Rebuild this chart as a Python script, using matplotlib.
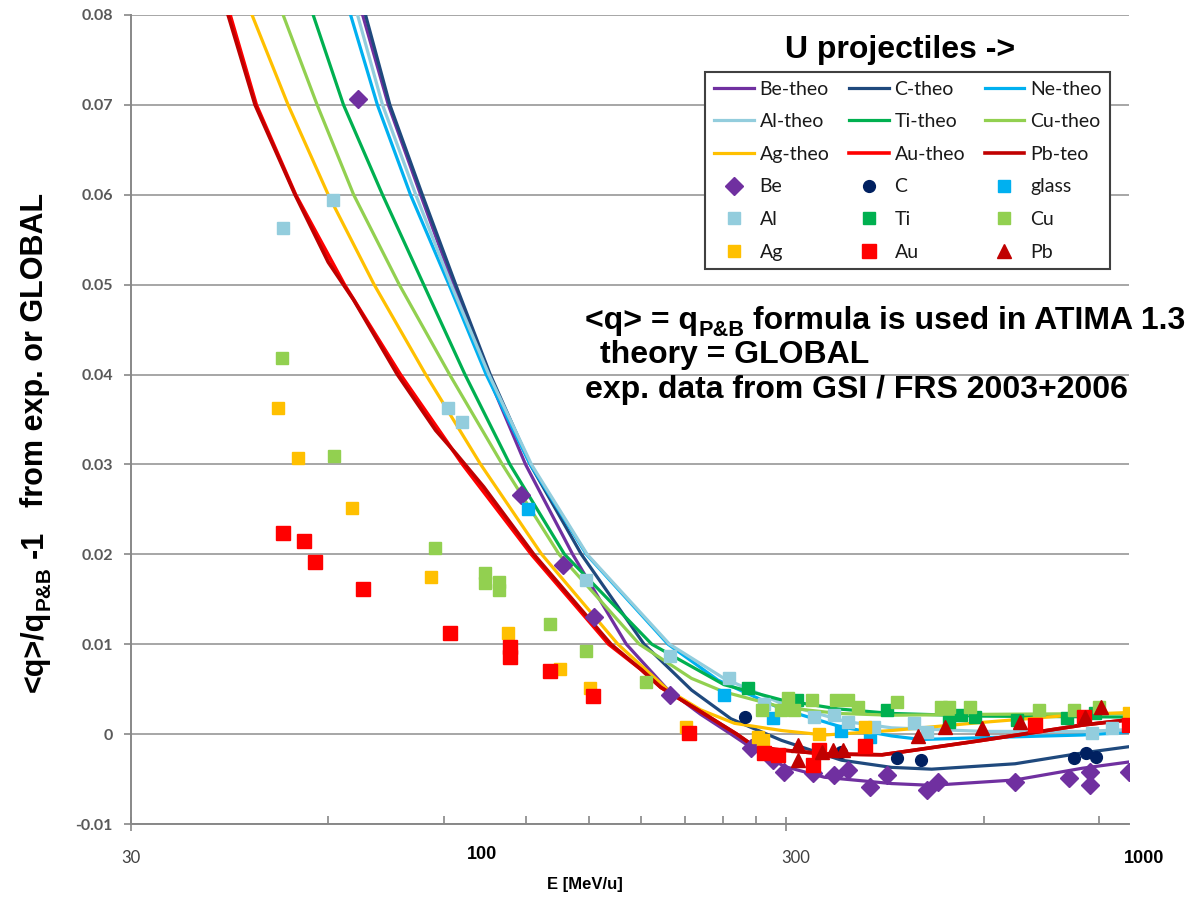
import numpy as np
import matplotlib
matplotlib.use("Agg")
import matplotlib.pyplot as plt
from matplotlib.ticker import FixedLocator, NullFormatter
import matplotlib.transforms as mtrans

# ---- theory curves (E in MeV/u, <q>/q_P&B - 1) ----
be_theo_E = [67.7, 74.1, 83.0, 93.1, 105, 120, 141.6, 171, 198, 222, 247, 265, 298, 343, 434, 500, 670, 848, 1000]
be_theo_y = [0.08, 0.07, 0.06, 0.05, 0.04, 0.03, 0.02, 0.01, 0.0049, 0.0022, 0.0, -0.0015, -0.0036, -0.0048, -0.0055, -0.0057, -0.0051, -0.0038, -0.0031]
c_theo_E = [68.4, 74.5, 83.5, 93.9, 106, 122, 146, 182, 215, 247, 295, 364, 434, 500, 670, 848, 1000]
c_theo_y = [0.08, 0.07, 0.06, 0.05, 0.04, 0.03, 0.02, 0.01, 0.0049, 0.0017, -0.0007, -0.0029, -0.0037, -0.0039, -0.0033, -0.0021, -0.0014]
ne_theo_E = [64.9, 71.3, 80.1, 91.7, 104.5, 122, 148.6, 198, 236, 295, 364, 434, 482, 596, 848, 1000]
ne_theo_y = [0.08, 0.07, 0.06, 0.05, 0.04, 0.03, 0.02, 0.01, 0.006, 0.0028, 0.0008, -0.0002, -0.0006, -0.0004, -0.0001, 0.0002]
al_theo_E = [66.5, 72.6, 81.6, 92.4, 105.5, 122.5, 149, 199, 241, 295, 370, 434, 600, 848, 1000]
al_theo_y = [0.08, 0.07, 0.06, 0.05, 0.04, 0.03, 0.02, 0.01, 0.0062, 0.0034, 0.0014, 0.0007, 0.0003, 0.0003, 0.0005]
ti_theo_E = [56.9, 63.3, 72.6, 83.9, 97, 113.6, 137.6, 187, 241, 295, 360, 434, 600, 1000]
ti_theo_y = [0.08, 0.07, 0.06, 0.05, 0.04, 0.03, 0.02, 0.01, 0.0055, 0.0038, 0.0028, 0.0023, 0.002, 0.0019]
cu_theo_E = [51.2, 57.7, 65.6, 77.0, 91.9, 110.6, 135, 179, 215, 241, 295, 360, 434, 600, 1000]
cu_theo_y = [0.08, 0.07, 0.06, 0.05, 0.04, 0.03, 0.02, 0.01, 0.0062, 0.0047, 0.003, 0.0023, 0.0021, 0.0022, 0.0023]
ag_theo_E = [45.9, 52.1, 60.0, 70.5, 84.5, 102.5, 127, 166, 198, 222, 250, 295, 343, 434, 596, 848, 1000]
ag_theo_y = [0.08, 0.07, 0.06, 0.05, 0.04, 0.03, 0.02, 0.01, 0.0049, 0.0027, 0.0012, 0.0004, -0.0001, 0.0004, 0.0013, 0.0022, 0.0024]
au_theo_E = [42.5, 46.6, 53.5, 63.5, 77.3, 96.2, 122.5, 160.7, 180, 193, 222, 252, 266, 288, 343, 420, 596, 848, 1000]
au_theo_y = [0.08, 0.07, 0.06, 0.05, 0.04, 0.03, 0.02, 0.01, 0.0072, 0.0052, 0.0025, 0.0, -0.0012, -0.0017, -0.0022, -0.0023, -0.0007, 0.0010, 0.0016]
pb_theo_E = [42.2, 46.4, 53.4, 60, 65.6, 76.5, 87.5, 94, 103.6, 123.5, 162, 180, 193, 222, 252, 266, 288, 343, 420, 596, 848, 1000]
pb_theo_y = [0.08, 0.07, 0.06, 0.0525, 0.0483, 0.040, 0.0338, 0.0312, 0.0275, 0.020, 0.01, 0.0072, 0.0052, 0.0025, 0.0, -0.0012, -0.0017, -0.0022, -0.0023, -0.0007, 0.0010, 0.0016]

# ---- experimental data ----
be_E = [66.7, 118, 136.8, 152.6, 199.4, 265, 286.6, 298, 330, 355, 373, 402, 427, 491, 512, 670, 810, 872, 872, 1000]
be_y = [0.0707, 0.0266, 0.0188, 0.013, 0.0043, -0.0016, -0.0029, -0.0042, -0.0043, -0.0046, -0.004, -0.0059, -0.0046, -0.0062, -0.0053, -0.0053, -0.0049, -0.0042, -0.0057, -0.0042]
c_E = [259, 364, 442, 481, 824, 860, 891]
c_y = [0.0019, -0.002, -0.0027, -0.0029, -0.0027, -0.0021, -0.0026]
glass_E = [121, 241, 286.6, 363, 402]
glass_y = [0.025, 0.0043, 0.0018, 0.0003, -0.0003]
al_E = [51.2, 60.9, 91.3, 95.9, 148.4, 199, 245.5, 277, 331, 355, 373, 408, 469, 491, 878, 942]
al_y = [0.0563, 0.0594, 0.0363, 0.0347, 0.0171, 0.0087, 0.0062, 0.0034, 0.0019, 0.0021, 0.0013, 0.0008, 0.0012, 0.0002, 0.0001, 0.0007]
ti_E = [262, 311, 427, 532, 555, 582, 674, 804, 887]
ti_y = [0.0051, 0.0038, 0.0027, 0.0013, 0.0021, 0.0019, 0.0016, 0.0018, 0.0024]
cu_E = [51, 61.3, 87.2, 104, 104, 109.2, 109.2, 130.7, 148.4, 183.3, 275, 294, 302, 308, 328, 357, 373, 386, 442, 516, 532, 571, 728, 824, 900]
cu_y = [0.0418, 0.0309, 0.0207, 0.0179, 0.0168, 0.0169, 0.016, 0.0122, 0.0093, 0.0058, 0.0027, 0.0027, 0.004, 0.0027, 0.0038, 0.0038, 0.0038, 0.003, 0.0036, 0.003, 0.003, 0.003, 0.0027, 0.0027, 0.003]
ag_E = [50.3, 54, 65.3, 86, 112.7, 135.4, 150.5, 211, 272, 276.7, 336, 395, 1000]
ag_y = [0.0363, 0.0307, 0.0251, 0.0175, 0.0113, 0.0072, 0.0051, 0.0008, -0.0003, -0.0006, 0.0, 0.0008, 0.0023]
au_E = [51.2, 55, 57.3, 67.7, 91.9, 113.5, 113.5, 130.7, 152, 213, 277, 291.7, 330, 337, 396, 718, 853, 1000]
au_y = [0.0224, 0.0215, 0.0191, 0.0161, 0.0113, 0.0097, 0.0086, 0.007, 0.0042, 0.0001, -0.0021, -0.0023, -0.0034, -0.0018, -0.0013, 0.001, 0.0019, 0.001]
pb_E = [313, 313, 340, 353, 366, 477, 523, 596, 681, 856, 906]
pb_y = [-0.0012, -0.0029, -0.002, -0.0018, -0.0018, -0.0002, 0.0008, 0.0007, 0.0013, 0.0019, 0.003]

y_ticks = [-0.01, 0.0, 0.01, 0.02, 0.03, 0.04, 0.05, 0.06, 0.07, 0.08]
y_tick_labels = ['-0.01', '0', '0.01', '0.02', '0.03', '0.04', '0.05', '0.06', '0.07', '0.08']

fig = plt.figure(figsize=(11.98, 8.98), dpi=100)
ax = fig.add_axes([131/1198, 74/898, 998/1198, 809/898])

theo = [
    (be_theo_E, be_theo_y, '#7030A0', 2.3, 'Be-theo'),
    (c_theo_E, c_theo_y, '#1F497D', 2.3, 'C-theo'),
    (ne_theo_E, ne_theo_y, '#00B0F0', 2.3, 'Ne-theo'),
    (al_theo_E, al_theo_y, '#93CDDD', 2.3, 'Al-theo'),
    (ti_theo_E, ti_theo_y, '#00B050', 2.3, 'Ti-theo'),
    (cu_theo_E, cu_theo_y, '#92D050', 2.3, 'Cu-theo'),
    (ag_theo_E, ag_theo_y, '#FFC000', 2.3, 'Ag-theo'),
    (au_theo_E, au_theo_y, '#FF0000', 2.6, 'Au-theo'),
    (pb_theo_E, pb_theo_y, '#C00000', 2.6, 'Pb-teo'),
]
for E, y, col, lw, lab in theo:
    ax.plot(E, y, '-', color=col, lw=lw, label=lab, solid_joinstyle='round', zorder=3)

exp = [
    (be_E, be_y, '#7030A0', 'D', 9, 'Be'),
    (c_E, c_y, '#002060', 'o', 8.5, 'C'),
    (glass_E, glass_y, '#00B0F0', 's', 8, 'glass'),
    (al_E, al_y, '#93CDDD', 's', 8, 'Al'),
    (ti_E, ti_y, '#00B050', 's', 8, 'Ti'),
    (cu_E, cu_y, '#92D050', 's', 8, 'Cu'),
    (ag_E, ag_y, '#FFC000', 's', 8, 'Ag'),
    (au_E, au_y, '#FF0000', 's', 10, 'Au'),
    (pb_E, pb_y, '#C00000', '^', 10, 'Pb'),
]
for E, y, col, m, ms, lab in exp:
    ax.plot(E, y, ls='none', marker=m, ms=ms, color=col, mec=col, label=lab, zorder=4)

ax.set_xscale('log')
ax.set_xlim(30, 1000)
ax.set_ylim(-0.01, 0.08)

ax.set_yticks(y_ticks)
ax.set_yticklabels(y_tick_labels, fontsize=11.5, fontweight='bold', color='#595959', family='Lato')
ax.tick_params(axis='y', direction='out', length=5, width=1.2, color='#888888', pad=8)
ax.yaxis.grid(True, color='#a6a6a6', lw=1.4)
ax.set_axisbelow(True)

ax.xaxis.set_major_locator(FixedLocator([30, 300]))
ax.xaxis.set_minor_locator(FixedLocator([60, 90, 120, 150, 180, 210, 240, 270, 600, 900]))
ax.xaxis.set_major_formatter(NullFormatter())
ax.xaxis.set_minor_formatter(NullFormatter())
ax.tick_params(axis='x', which='major', direction='inout', length=10, width=1.2, color='#888888')
ax.tick_params(axis='x', which='minor', direction='in', length=6, width=1.2, color='#888888')

for s in ['top', 'right']:
    ax.spines[s].set_visible(False)
for s in ['left', 'bottom']:
    ax.spines[s].set_color('#888888')
    ax.spines[s].set_linewidth(1.4)

# x tick labels placed like the original
tr = mtrans.blended_transform_factory(ax.transData, ax.transAxes)
ax.text(30, -0.042, '30', transform=tr, ha='center', va='center', fontsize=12, color='#404040', family='Lato')
ax.text(103, -0.038, '100', transform=tr, ha='center', va='center', fontsize=13, fontweight='bold', color='black',
        family='Liberation Sans')
ax.text(310, -0.042, '300', transform=tr, ha='center', va='center', fontsize=12, color='#404040', family='Lato')
ax.text(1055, -0.043, '1000', transform=tr, ha='center', va='center', fontsize=13, fontweight='bold', color='black',
        family='Liberation Sans')

fig.text(585/1198, 1 - 885/898, 'E [MeV/u]', ha='center', va='center', fontsize=12, fontweight='bold',
         family='Liberation Sans')

renderer = fig.canvas.get_renderer()


def text_width(s, size):
    t = fig.text(0, 0, s, fontsize=size, fontweight='bold', family='Liberation Sans')
    w = t.get_window_extent(renderer).width
    t.remove()
    return w


def rich_text(x, y, parts, size, rotation=0, center=False):
    # parts: (string, relative size, baseline drop in font units, gap after in font units)
    px = size * 100 / 72.0
    widths = [text_width(s, size * rs) for s, rs, dy, g in parts]
    total = sum(widths) + sum(g * px for s, rs, dy, g in parts)
    pos = -total / 2 if center else 0
    for (s, rs, dy, g), w in zip(parts, widths):
        if rotation == 90:
            xx, yy = x + dy * px, y + pos
        else:
            xx, yy = x + pos, y - dy * px
        fig.text(xx, yy, s, fontsize=size * rs, fontweight='bold', family='Liberation Sans',
                 rotation=rotation, rotation_mode='anchor', ha='left', va='baseline',
                 transform=mtrans.IdentityTransform())
        pos += w + g * px


sub = 0.68
ylab = [('<q>/q', 1, 0, 0.02), ('P&B', sub, 0.22, 0.25), ('-1', 1, 0, 0.8), ('from exp. or GLOBAL', 1, 0, 0)]
rich_text(43, 898 - 442, ylab, 22, rotation=90, center=True)

line1 = [('<q> = q', 1, 0, 0.02), ('P&B', sub, 0.22, 0.25), ('formula is used in ATIMA 1.3', 1, 0, 0)]
rich_text(585, 898 - 329, line1, 23)
rich_text(600, 898 - 363, [('theory = GLOBAL', 1, 0, 0)], 23)
rich_text(585, 898 - 398, [('exp. data from GSI / FRS 2003+2006', 1, 0, 0)], 23)

fig.text(900/1198, 1 - 50/898, 'U projectiles ->', ha='center', va='center', fontsize=23,
         fontweight='bold', family='Liberation Sans')

# legend: Excel fills rows, matplotlib fills columns
h, l = ax.get_legend_handles_labels()
order = [0, 3, 6, 9, 12, 15, 1, 4, 7, 10, 13, 16, 2, 5, 8, 11, 14, 17]
leg = ax.legend([h[i] for i in order], [l[i] for i in order], ncol=3, loc='upper left',
                bbox_to_anchor=(705/1198, 1 - 72/898), bbox_transform=fig.transFigure,
                frameon=True, fancybox=False, edgecolor='#404040', framealpha=1, borderaxespad=0,
                prop={'family': 'Lato', 'size': 14}, handlelength=2.05, handletextpad=0.3,
                columnspacing=1.0, labelspacing=0.8, borderpad=0.45)
for t in leg.get_texts():
    t.set_color('#1a1a1a')
leg.get_frame().set_linewidth(1.5)

fig.savefig('out.png', dpi=100)
